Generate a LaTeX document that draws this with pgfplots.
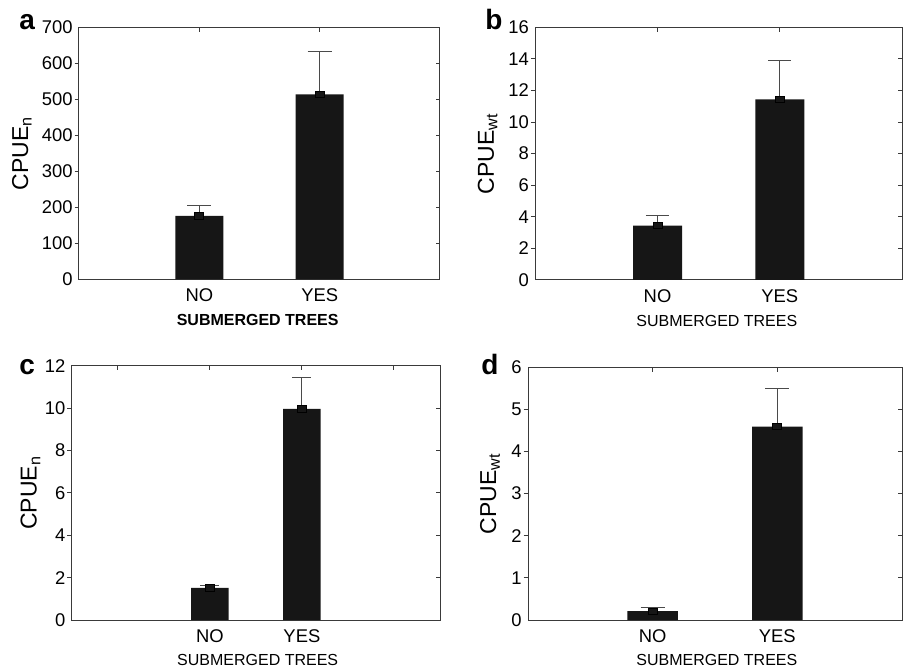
\documentclass[border=0pt]{standalone}
\usepackage{pgfplots}
\pgfplotsset{compat=1.18}
\usepackage{fontspec}
\setmainfont{Liberation Sans}
\definecolor{barc}{HTML}{161616}
\definecolor{errc}{HTML}{4A4A4A}
\definecolor{axc}{HTML}{3A3A3A}

\pgfplotsset{
  panel/.style={
    scale only axis, anchor=south west,
    ymin=0, axis line style={axc, line width=0.5pt},
    tick style={axc, line width=0.5pt}, major tick length=2.2pt,
    tick align=inside,
    xtick pos=upper, xticklabel pos=lower,
    ytick pos=right, yticklabel pos=left,
    extra y tick labels={},
    extra y tick style={tick align=outside, ytick pos=left},
    /pgf/number format/assume math mode=true,
    ticklabel style={font=\fontsize{9.2}{11}\selectfont},
    xticklabel style={inner sep=0pt, yshift=-4.5pt},
    yticklabel style={inner sep=0pt, xshift=-3pt},
    ylabel style={font=\fontsize{11.5}{13}\selectfont, anchor=base},
    xlabel style={font=\fontsize{8}{9}\selectfont, anchor=center},
  },
  errbar/.style={
    ybar, fill=barc, draw=none,
    error bars/.cd, y dir=plus, y explicit,
    error bar style={line width=0.5pt, draw=errc},
    error mark options={rotate=90, line width=0.5pt, draw=errc, mark size=#1},
    /pgfplots/.cd,
  },
  topsq/.style={only marks, mark=square*, mark size=2.25pt,
    mark options={yscale=0.7, fill=barc, draw=none}},
}
\tikzset{lbl/.style={anchor=base west, inner sep=0pt, font=\fontsize{14}{16}\selectfont\bfseries}}

\begin{document}
\begin{tikzpicture}
\path[use as bounding box] (0,0) rectangle (452pt,335pt);

% a
\begin{axis}[panel, at={(39.5pt,195.35pt)}, width=180.5pt, height=126pt,
  xmin=0, xmax=3, ymax=700, ytick={0,100,...,700}, extra y ticks={100,200,...,600},
  xtick={1,2}, xticklabels={NO,YES},
  xlabel={\bfseries SUBMERGED TREES}, ylabel={CPUE\textsubscript{n}},
  xlabel style={at={(axis description cs:0.495,-0.163)}},
  ylabel style={at={(axis description cs:-0.141,0.5)}}]
\addplot[bar width=24pt, errbar=6pt] coordinates {(1,176) +- (0,30) (2,514) +- (0,118)};
\addplot[topsq] coordinates {(1,176) (2,514)};
\end{axis}
\node[lbl] at (9.5pt,320pt) {a};

% b
\begin{axis}[panel, at={(267.65pt,195pt)}, width=183.35pt, height=126.35pt,
  xmin=0, xmax=3, ymax=16, ytick={0,2,...,16}, extra y ticks={2,4,...,14},
  xtick={1,2}, xticklabels={NO,YES},
  xlabel={SUBMERGED TREES}, ylabel={CPUE\textsubscript{wt}},
  xlabel style={at={(axis description cs:0.495,-0.163)}},
  ylabel style={at={(axis description cs:-0.113,0.5)}}]
\addplot[bar width=24.5pt, errbar=5.8pt] coordinates {(1,3.44) +- (0,0.63) (2,11.43) +- (0,2.45)};
\addplot[topsq] coordinates {(1,3.44) (2,11.43)};
\end{axis}
\node[lbl] at (242.5pt,320pt) {b};

% c
\begin{axis}[panel, at={(35.85pt,25pt)}, width=184.15pt, height=127.15pt,
  xmin=-0.5, xmax=3.5, ymax=12, ytick={0,2,...,12}, extra y ticks={2,4,...,10},
  xtick={0,1,2,3}, xticklabels={,NO,YES,},
  xlabel={SUBMERGED TREES}, ylabel={CPUE\textsubscript{n}},
  xlabel style={at={(axis description cs:0.505,-0.157)}},
  ylabel style={at={(axis description cs:-0.095,0.5)}}]
\addplot[bar width=18.8pt, errbar=4.7pt] coordinates {(1,1.52) +- (0,0.12) (2,9.96) +- (0,1.47)};
\addplot[topsq] coordinates {(1,1.52) (2,9.96)};
\end{axis}
\node[lbl] at (9.5pt,148pt) {c};

% d
\begin{axis}[panel, at={(264pt,25pt)}, width=187pt, height=126.35pt,
  xmin=0, xmax=3, ymax=6, ytick={0,1,...,6}, extra y ticks={1,2,...,5},
  xtick={1,2}, xticklabels={NO,YES},
  xlabel={SUBMERGED TREES}, ylabel={CPUE\textsubscript{wt}},
  xlabel style={at={(axis description cs:0.505,-0.158)}},
  ylabel style={at={(axis description cs:-0.085,0.5)}}]
\addplot[bar width=25.3pt, errbar=6pt] coordinates {(1,0.21) +- (0,0.08) (2,4.59) +- (0,0.91)};
\addplot[topsq] coordinates {(1,0.21) (2,4.59)};
\end{axis}
\node[lbl] at (240.5pt,148pt) {d};
\end{tikzpicture}
\end{document}
